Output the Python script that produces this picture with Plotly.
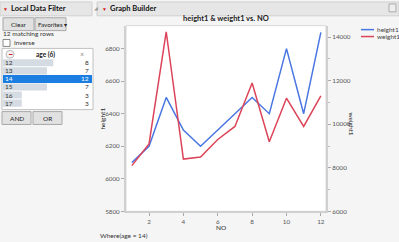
import plotly.graph_objects as go

# ---------------- data ----------------
NO = [1, 2, 3, 4, 5, 6, 7, 8, 9, 10, 11, 12]
height1 = [6100, 6200, 6500, 6300, 6200, 6300, 6400, 6500, 6400, 6800, 6400, 6900]
weight1 = [8100, 9100, 14250, 8400, 8500, 9300, 9900, 11900, 9200, 11200, 9900, 11300]
ages = [12, 13, 14, 15, 16, 17]
age_counts = [8, 7, 12, 7, 3, 3]
selected_age = 14
left_ticks = [5800, 6000, 6200, 6400, 6600, 6800]
right_ticks = [6000, 8000, 10000, 12000, 14000]
x_ticks = [2, 4, 6, 8, 10, 12]

W, H = 399, 242
def px(x): return x / W
def py(y): return 1 - y / H

BLUE = "#4a76e2"
RED = "#dc4459"
SEL = "#1c7ee0"
FONT = "Lato"

fig = go.Figure()
fig.add_trace(go.Scatter(x=NO, y=height1, mode="lines", line=dict(color=BLUE, width=1.5),
                         name="height1", xaxis="x", yaxis="y", showlegend=False))
fig.add_trace(go.Scatter(x=NO, y=weight1, mode="lines", line=dict(color=RED, width=1.5),
                         name="weight1", xaxis="x", yaxis="y2", showlegend=False))

# filter list bars
bar_colors = [SEL if a == selected_age else "#d5dbe2" for a in ages]
fig.add_trace(go.Bar(x=age_counts, y=ages, orientation="h", marker=dict(color=bar_colors, line=dict(width=0)),
                     xaxis="x3", yaxis="y3", showlegend=False, hoverinfo="skip"))

shapes = []
ann = []

def rect(x0, y0, x1, y1, fill, line="#b0b0b0", lw=1, layer="below"):
    shapes.append(dict(type="rect", xref="paper", yref="paper", x0=px(x0), x1=px(x1), y0=py(y1), y1=py(y0),
                       fillcolor=fill, line=dict(color=line, width=lw), layer=layer))

def text(x, y, s, size=6.5, color="#333", bold=False, xanchor="left", textangle=0):
    if bold:
        s = "<b>" + s + "</b>"
    ann.append(dict(xref="paper", yref="paper", x=px(x), y=py(y), text=s, showarrow=False,
                    font=dict(size=size, color=color, family=FONT), xanchor=xanchor, yanchor="middle",
                    textangle=textangle, borderpad=0))

# headers
rect(0, 2, 92, 16, "#e6e6e6", "#d0d0d0")
rect(97, 2, 399, 16, "#e6e6e6", "#d0d0d0")
text(2, 9, "▼", size=5, color="#d42020")
text(10, 9, "Local Data Filter", size=7.5, color="#111", bold=True)
text(101, 9, "▼", size=5, color="#d42020")
text(109, 9, "Graph Builder", size=7.5, color="#111", bold=True)
text(93, 9, "◢", size=4.5, color="#999")
rect(389, 4, 396, 12, "#eeeeee", "#aaaaaa")

# buttons
rect(3, 18, 34, 31, "#e1e1e1", "#a8a8a8")
text(18.5, 24.5, "Clear", size=6.5, color="#222", xanchor="center")
rect(35, 18, 66, 31, "#e1e1e1", "#a8a8a8")
text(36.5, 24.5, "Favorites ▾", size=6.2, color="#222")
text(2, 33.5, "12 matching rows", size=6.5, color="#333")
rect(3, 40, 10, 47, "#ffffff", "#888888")
text(13, 43.5, "Inverse", size=6.5, color="#333")

# list box
rect(2, 49, 93, 111, "#ffffff", "#c0c0c0")
shapes.append(dict(type="circle", xref="paper", yref="paper", x0=px(6), x1=px(14), y0=py(59), y1=py(51),
                   fillcolor="#f2f2f2", line=dict(color="#bbbbbb", width=1)))
text(7.6, 55, "▬", size=3.5, color="#d42020")
text(45, 55, "age (6)", size=6.5, color="#222", bold=True, xanchor="center")
text(82, 55, "×", size=7, color="#888", xanchor="center")
# selected highlight
shapes.append(dict(type="rect", xref="paper", yref="y3", x0=px(3), x1=px(92), y0=selected_age - 0.5,
                   y1=selected_age + 0.5, fillcolor=SEL, line=dict(width=0), layer="below"))
for a, c in zip(ages, age_counts):
    col = "#ffffff" if a == selected_age else "#333333"
    ann.append(dict(xref="paper", yref="y3", x=px(4), y=a, text=str(a), showarrow=False, xanchor="left",
                    yanchor="middle", font=dict(size=6.5, color=col, family=FONT), borderpad=0))
    ann.append(dict(xref="paper", yref="y3", x=px(90), y=a, text=str(c), showarrow=False, xanchor="right",
                    yanchor="middle", font=dict(size=6.5, color=col, family=FONT), borderpad=0))

rect(2, 113, 31, 126, "#e1e1e1", "#a8a8a8")
text(16.5, 119.5, "AND", size=6.5, color="#222", xanchor="center")
rect(33, 113, 62, 126, "#e1e1e1", "#a8a8a8")
text(47.5, 119.5, "OR", size=6.5, color="#222", xanchor="center")

# plot frame
rect(126, 26, 326, 214, "#ffffff", "#d8d8d8", layer="below")

# title, axis titles
text(226, 19, "height1 & weight1 vs. NO", size=7.5, color="#222", bold=True, xanchor="center")
text(103, 120, "height1", size=6.5, color="#222", xanchor="center", textangle=-90)
text(352, 125, "weight1", size=6.5, color="#222", xanchor="center", textangle=90)
text(221, 230.5, "NO", size=6.5, color="#222", xanchor="center")
text(99, 238, "Where(age = 14)", size=6.5, color="#333")

# legend (manual)
for yy, col, nm in [(30, BLUE, "height1"), (37, RED, "weight1")]:
    shapes.append(dict(type="line", xref="paper", yref="paper", x0=px(361), x1=px(374), y0=py(yy), y1=py(yy),
                       line=dict(color=col, width=1.5)))
    text(375.5, yy, nm, size=6.5, color="#444")

axfont = dict(size=6.3, color="#555", family=FONT)
fig.update_layout(
    width=W, height=H, margin=dict(l=0, r=0, t=0, b=0),
    paper_bgcolor="#f5f5f5", plot_bgcolor="rgba(0,0,0,0)",
    shapes=shapes, annotations=ann, bargap=0.12,
    xaxis=dict(domain=[px(126), px(326)], range=[0.66, 12.3], tickvals=x_ticks, ticks="outside", ticklen=3,
               tickcolor="#aaa", tickfont=axfont, showgrid=False, zeroline=False, showline=True,
               linecolor="#d0d0d0", linewidth=2, anchor="y", ticklabelstandoff=0),
    yaxis=dict(domain=[py(214), py(26)], range=[5800, 6941], tickvals=left_ticks, ticks="outside", ticklen=3,
               tickcolor="#aaa", tickfont=axfont, showgrid=False, zeroline=False, showline=True,
               linecolor="#d0d0d0", linewidth=2, anchor="x", tickformat="d"),
    yaxis2=dict(overlaying="y", side="right", range=[6000, 14530], tickvals=right_ticks, ticks="outside",
                ticklen=3, tickcolor="#aaa", tickfont=axfont, showgrid=False, zeroline=False, showline=True,
                linecolor="#d0d0d0", linewidth=2, anchor="x", tickformat="d",
                minor=dict(dtick=1000, ticks="outside", ticklen=2, tickcolor="#bbb")),
    xaxis3=dict(domain=[px(3), px(91)], range=[0, 14], visible=False, anchor="y3"),
    yaxis3=dict(domain=[py(108.5), py(59.5)], range=[17.5, 11.5], visible=False, anchor="x3"),
)
fig.write_html("out.html")
